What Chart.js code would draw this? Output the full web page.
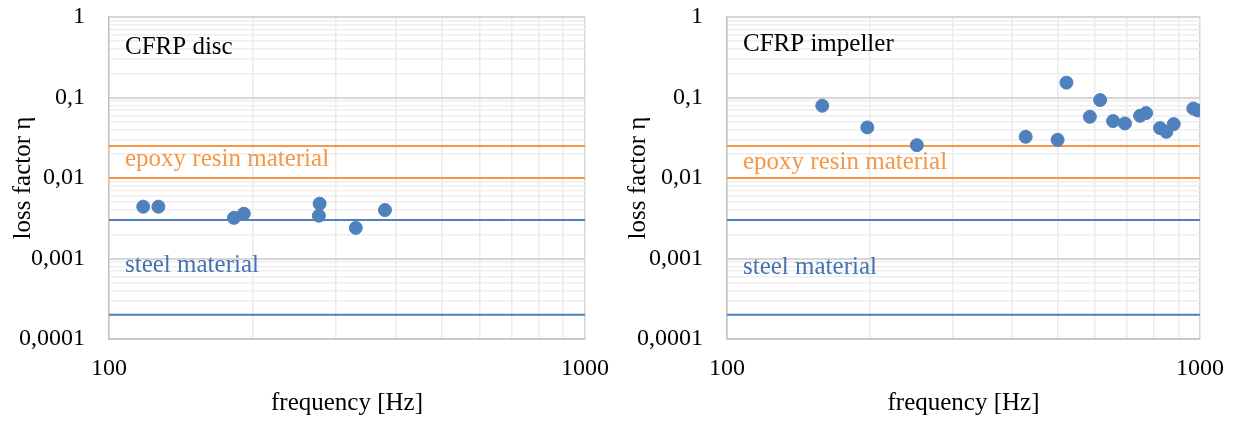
<!DOCTYPE html>
<html>
<head>
<meta charset="utf-8">
<script src="https://cdn.jsdelivr.net/npm/chart.js@4.4.0/dist/chart.umd.min.js"></script>
<style>
  html, body { margin: 0; padding: 0; background: #fff; }
  #wrap { position: relative; width: 1235px; height: 421px; }
  #discChart { position: absolute; left: 0; top: 0; }
  #impChart { position: absolute; left: 615px; top: 0; }
</style>
</head>
<body>
<div id="wrap">
  <canvas id="discChart" width="615" height="421"></canvas>
  <canvas id="impChart" width="620" height="421"></canvas>
</div>
<script>
const discFreq = [118, 127, 183, 192, 277, 276, 330, 380];
const discLoss = [0.0044, 0.0044, 0.0032, 0.0036, 0.0048, 0.0034, 0.0024, 0.0040];

const impFreq = [159, 198, 252, 428, 500, 522, 585, 615, 655, 694, 747, 769, 823, 849, 880, 968, 989];
const impLoss = [0.079, 0.0425, 0.0256, 0.0325, 0.0298, 0.153, 0.0576, 0.093, 0.051,
  0.0476, 0.0593, 0.064, 0.0417, 0.0375, 0.0467, 0.073, 0.069];

// reference bands for the two materials
const freqRange = [100, 1000];
const epoxyBand = [0.01, 0.025];
const steelBand = [0.0002, 0.003];

// in-plot labels: text and the loss factor they sit at
const discNotes = [['CFRP disc', 0.42, '#000000'], ['epoxy resin material', 0.0168, '#F79646'], ['steel material', 0.00082, '#4572B0']];
const impNotes = [['CFRP impeller', 0.45, '#000000'], ['epoxy resin material', 0.0154, '#F79646'], ['steel material', 0.00077, '#4572B0']];

// grid / tick positions
const xTicks = [100, 200, 300, 400, 500, 600, 700, 800, 900, 1000];
const yDecades = [0.0001, 0.001, 0.01, 0.1];
const yMinorSteps = [1, 2, 3, 4, 5, 6, 7, 8, 9];
const yTickLabels = { 1: '1', 0.1: '0,1', 0.01: '0,01', 0.001: '0,001', 0.0001: '0,0001' };
const xTickLabels = { 100: '100', 1000: '1000' };

const yTicks = [];
yDecades.forEach((d) => yMinorSteps.forEach((m) => yTicks.push(Number((d * m).toPrecision(2)))));
yTicks.push(1);

const BLUE = '#4F81BD';
const ORANGE = '#F79646';
const SERIF = '"Liberation Serif", "Times New Roman", serif';
const FONT = { family: SERIF, size: 24 };
const TEXT_FONT = { family: SERIF, size: 25 };

const isDecade = (v) => {
  const l = Math.log10(v);
  return Math.abs(l - Math.round(l)) < 1e-9;
};

const hLine = (y, color) => ({
  type: 'line',
  data: freqRange.map((x) => ({ x, y })),
  borderColor: color,
  borderWidth: 2,
  pointRadius: 0,
  fill: false,
});

const notesPlugin = {
  id: 'notes',
  afterDatasetsDraw(chart) {
    const { ctx, chartArea, scales } = chart;
    const notes = chart.options.plugins.notes.items;
    ctx.save();
    ctx.font = `${TEXT_FONT.size}px ${TEXT_FONT.family}`;
    ctx.textBaseline = 'middle';
    ctx.textAlign = 'left';
    notes.forEach(([text, val, color]) => {
      ctx.fillStyle = color;
      ctx.fillText(text, chartArea.left + 16, scales.y.getPixelForValue(val));
    });
    ctx.restore();
  },
};

const makeChart = (id, freq, loss, notes, yWidth, padRight) => new Chart(document.getElementById(id), {
  type: 'scatter',
  data: {
    datasets: [
      {
        data: freq.map((f, i) => ({ x: f, y: loss[i] })),
        backgroundColor: BLUE,
        borderColor: BLUE,
        pointRadius: 6.5,
        pointHoverRadius: 6.5,
      },
      ...epoxyBand.map((v) => hLine(v, ORANGE)),
      ...steelBand.map((v) => hLine(v, BLUE)),
    ],
  },
  options: {
    responsive: false,
    animation: false,
    events: [],
    layout: { padding: { left: 0, right: padRight, top: 17, bottom: 0 } },
    plugins: { legend: { display: false }, tooltip: { enabled: false }, notes: { items: notes } },
    scales: {
      x: {
        type: 'logarithmic',
        min: freqRange[0],
        max: freqRange[1],
        afterBuildTicks: (s) => { s.ticks = xTicks.map((value) => ({ value })); },
        afterFit: (s) => { s.height = 82; s.paddingLeft = 0; s.paddingRight = 0; },
        border: { color: '#c4c4c4', width: 1.5 },
        grid: {
          drawTicks: false,
          color: (c) => (isDecade(c.tick.value) ? '#d6d6d6' : '#ebebeb'),
          lineWidth: 1.5,
        },
        ticks: {
          autoSkip: false,
          maxRotation: 0,
          padding: 15,
          color: '#000',
          font: FONT,
          callback: (v) => xTickLabels[v] || '',
        },
        title: { display: true, text: 'frequency [Hz]', color: '#000', font: TEXT_FONT, padding: { top: 0, bottom: 3 } },
      },
      y: {
        type: 'logarithmic',
        min: 0.0001,
        max: 1,
        afterBuildTicks: (s) => { s.ticks = yTicks.map((value) => ({ value })); },
        afterFit: (s) => { s.width = yWidth; s.paddingTop = 0; s.paddingBottom = 0; },
        border: { color: '#c4c4c4', width: 1.5 },
        grid: {
          drawTicks: false,
          color: (c) => (isDecade(c.tick.value) ? '#d6d6d6' : '#eeeeee'),
          lineWidth: (c) => (isDecade(c.tick.value) ? 2 : 1.5),
        },
        ticks: {
          autoSkip: false,
          padding: 24,
          color: '#000',
          font: FONT,
          callback: (v) => yTickLabels[v] || '',
        },
        title: { display: true, text: 'loss factor η', color: '#000', font: TEXT_FONT, padding: { top: 8, bottom: 0 } },
      },
    },
  },
  plugins: [notesPlugin],
});

makeChart('discChart', discFreq, discLoss, discNotes, 109, 30);
makeChart('impChart', impFreq, impLoss, impNotes, 112, 35);
</script>
</body>
</html>
